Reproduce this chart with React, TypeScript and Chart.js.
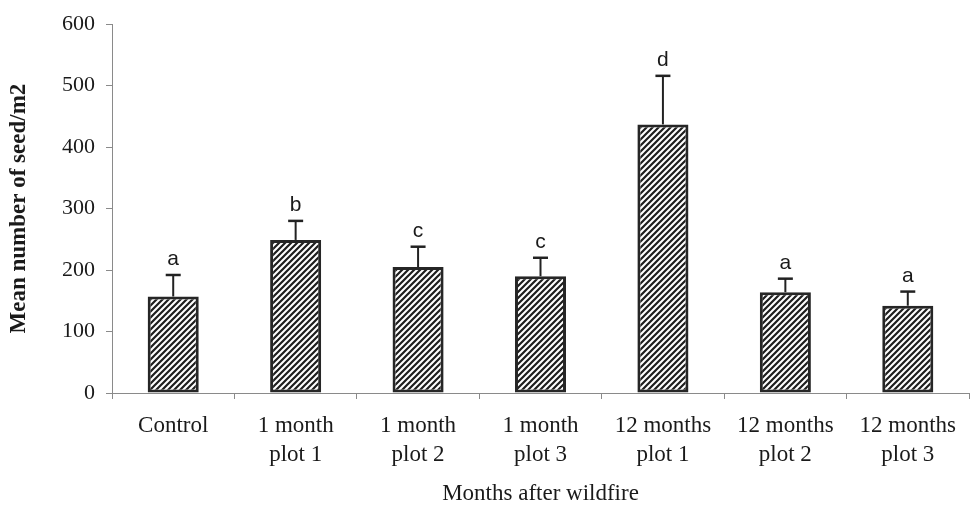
import React, { useEffect, useRef } from "react";
import { Chart, registerables } from "chart.js";

Chart.register(...registerables);

const categories: string[][] = [
  ["Control"],
  ["1 month", "plot 1"],
  ["1 month", "plot 2"],
  ["1 month", "plot 3"],
  ["12 months", "plot 1"],
  ["12 months", "plot 2"],
  ["12 months", "plot 3"],
];
const meanSeeds: number[] = [157, 249, 205, 190, 437, 164, 142];
const errorUp: number[] = [35, 31, 33, 30, 79, 22, 23];
const groupLetters: string[] = ["a", "b", "c", "c", "d", "a", "a"];
const yTicks: number[] = [0, 100, 200, 300, 400, 500, 600];

const SERIF = "'Liberation Serif', 'Times New Roman', serif";

function makeHatch(): CanvasPattern | string {
  const c = document.createElement("canvas");
  const s = 6;
  c.width = s;
  c.height = s;
  const g = c.getContext("2d");
  if (!g) return "#555";
  g.fillStyle = "#ffffff";
  g.fillRect(0, 0, s, s);
  g.strokeStyle = "#1e1e1e";
  g.lineWidth = 2.2;
  g.lineCap = "square";
  g.beginPath();
  g.moveTo(-1, 1);
  g.lineTo(1, -1);
  g.moveTo(0, s);
  g.lineTo(s, 0);
  g.moveTo(s - 1, s + 1);
  g.lineTo(s + 1, s - 1);
  g.stroke();
  const p = g.createPattern(c, "repeat");
  return p || "#555";
}

const errorPlugin = {
  id: "errorBarsLetters",
  afterDatasetsDraw(chart: any) {
    const ctx = chart.ctx;
    const meta = chart.getDatasetMeta(0);
    const y = chart.scales.y;
    ctx.save();
    meta.data.forEach((bar: any, i: number) => {
      const x = bar.x;
      const yBar = y.getPixelForValue(meanSeeds[i]);
      const yTop = y.getPixelForValue(meanSeeds[i] + errorUp[i]);
      ctx.strokeStyle = "#222222";
      ctx.lineWidth = 2;
      ctx.beginPath();
      ctx.moveTo(x, yBar);
      ctx.lineTo(x, yTop);
      ctx.stroke();
      ctx.lineWidth = 2.5;
      ctx.beginPath();
      ctx.moveTo(x - 7.5, yTop);
      ctx.lineTo(x + 7.5, yTop);
      ctx.stroke();
      ctx.fillStyle = "#1a1a1a";
      ctx.font = "21px 'Liberation Sans', Arial, sans-serif";
      ctx.textAlign = "center";
      ctx.textBaseline = "alphabetic";
      ctx.fillText(groupLetters[i], x, yTop - 10);
    });
    ctx.restore();
  },
};

export default function App() {
  const ref = useRef<HTMLCanvasElement | null>(null);
  useEffect(() => {
    if (!ref.current) return;
    const axisColor = "#8a8a8a";
    const chart = new Chart(ref.current, {
      type: "bar",
      data: {
        labels: categories,
        datasets: [
          {
            data: meanSeeds,
            backgroundColor: makeHatch() as any,
            borderColor: "#262626",
            borderWidth: 3,
            borderSkipped: false,
            barPercentage: 0.417,
            categoryPercentage: 1,
          },
        ],
      },
      options: {
        animation: false,
        responsive: false,
        devicePixelRatio: 1,
        layout: { padding: { top: 15, right: 6, left: 0, bottom: 0 } },
        plugins: {
          legend: { display: false },
          tooltip: { enabled: false },
        },
        scales: {
          x: {
            grid: {
              display: true,
              drawOnChartArea: false,
              drawTicks: true,
              tickLength: 6,
              color: axisColor,
              offset: true,
            },
            border: { display: true, color: axisColor, width: 1 },
            ticks: {
              color: "#1a1a1a",
              font: { family: SERIF, size: 23, lineHeight: 1.25 },
              padding: 13,
              maxRotation: 0,
              autoSkip: false,
            },
            title: {
              display: true,
              text: "Months after wildfire",
              color: "#1a1a1a",
              font: { family: SERIF, size: 23 },
              padding: { top: 0, bottom: 0 },
            },
            afterFit(scale: any) {
              scale.height = 115;
            },
          },
          y: {
            min: 0,
            max: 600,
            afterBuildTicks(scale: any) {
              scale.ticks = yTicks.map((v) => ({ value: v }));
            },
            grid: {
              display: true,
              drawOnChartArea: false,
              drawTicks: true,
              tickLength: 6,
              color: axisColor,
            },
            border: { display: true, color: axisColor, width: 1 },
            ticks: {
              color: "#1a1a1a",
              font: { family: SERIF, size: 22 },
              padding: 11,
            },
            title: {
              display: true,
              text: "Mean number of seed/m2",
              color: "#1a1a1a",
              font: { family: SERIF, size: 23, weight: "bold" },
              padding: { top: 5, bottom: 0 },
            },
            afterFit(scale: any) {
              scale.width = 112;
            },
          },
        },
      },
      plugins: [errorPlugin],
    });
    return () => chart.destroy();
  }, []);
  return (
    <div style={{ position: "absolute", left: 0, top: 0, width: 975, height: 508, background: "#ffffff" }}>
      <canvas ref={ref} width={975} height={508} />
    </div>
  );
}
